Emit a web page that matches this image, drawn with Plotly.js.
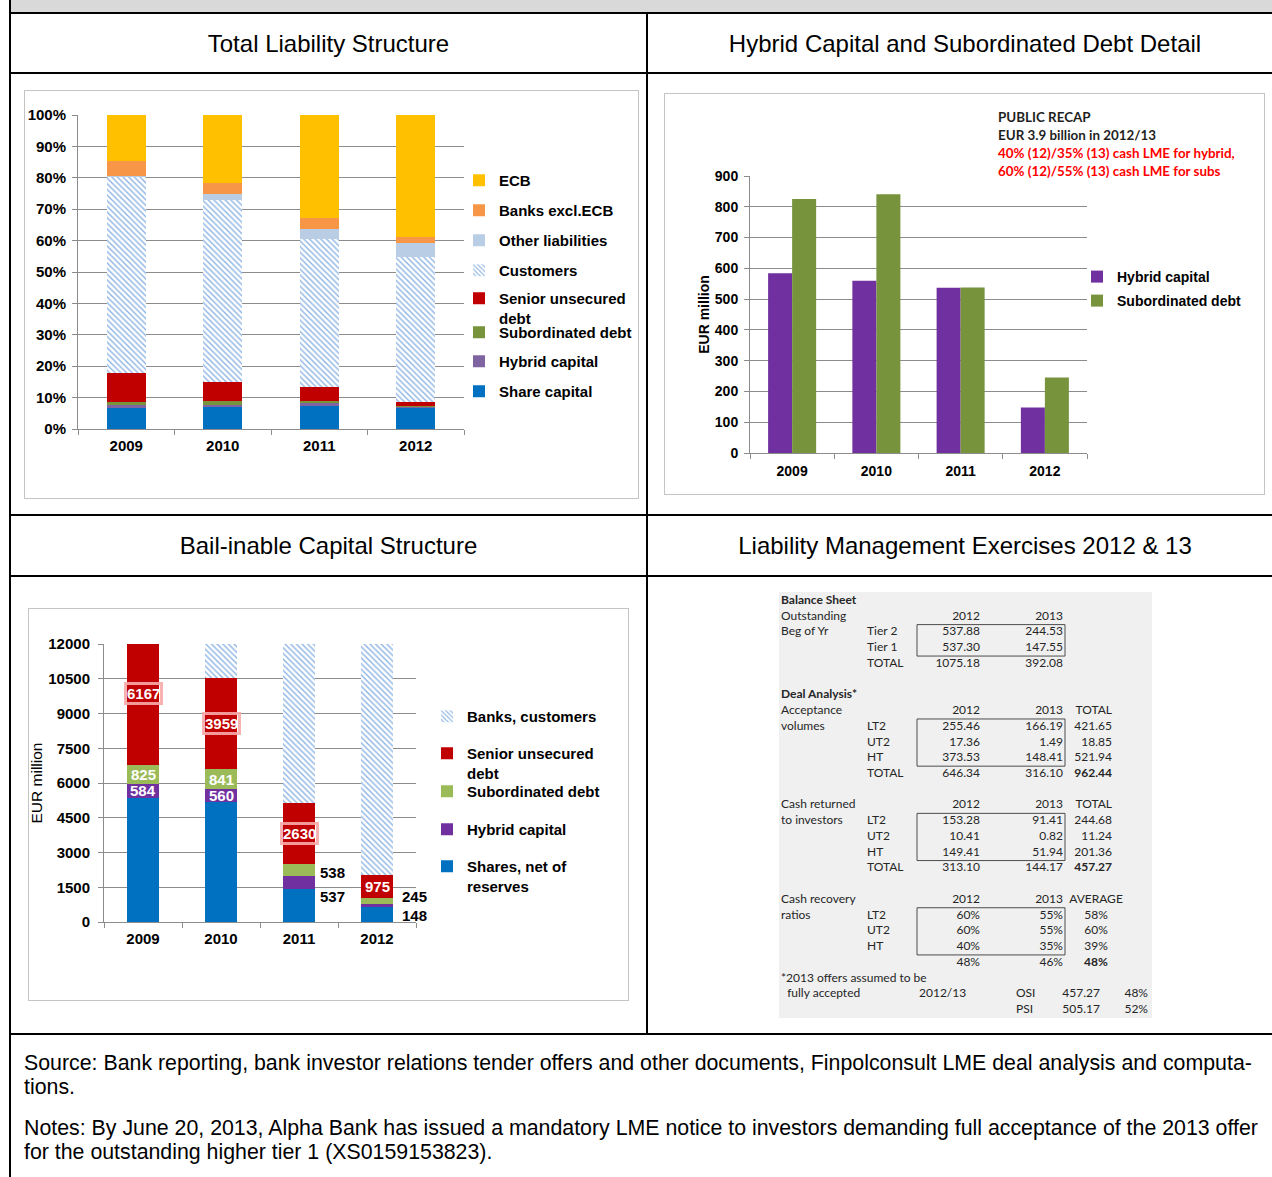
<!DOCTYPE html>
<html>
<head>
<meta charset="utf-8">
<script src="https://cdn.plot.ly/plotly-3.0.1.min.js"></script>
<style>
  body { margin: 0; background: #fff; }
  #page { position: relative; width: 1272px; height: 1177px; overflow: hidden; background: #fff; font-family: "Liberation Sans", Arial, sans-serif; }
  .hl { position: absolute; background: #000; height: 2px; }
  .vl { position: absolute; background: #000; width: 2px; }
  .hdr { position: absolute; text-align: center; font-size: 24px; color: #000; height: 30px; line-height: 30px; white-space: nowrap; }
  .box { position: absolute; box-sizing: border-box; border: 1px solid #c4c4c4; }
  .plot { position: absolute; }
  .notes { position: absolute; left: 24px; font-size: 21.33px; line-height: 24px; color: #000; white-space: nowrap; }
</style>
</head>
<body>
<div id="page">
  <div style="position:absolute;left:11px;top:0;width:1261px;height:12px;background:#d9d9d9;"></div>
  <div class="vl" style="left:9px;top:0;height:1177px;"></div>
  <div class="hl" style="left:9px;top:12px;width:1263px;"></div>
  <div class="vl" style="left:646px;top:12px;height:1023px;"></div>
  <div class="hl" style="left:9px;top:72px;width:1263px;"></div>
  <div class="hl" style="left:9px;top:514px;width:1263px;"></div>
  <div class="hl" style="left:9px;top:575px;width:1263px;"></div>
  <div class="hl" style="left:9px;top:1033px;width:1263px;"></div>

  <div class="hdr" style="left:11px;width:635px;top:29px;">Total Liability Structure</div>
  <div class="hdr" style="left:648px;width:634px;top:29px;">Hybrid Capital and Subordinated Debt Detail</div>
  <div class="hdr" style="left:11px;width:635px;top:531px;">Bail-inable Capital Structure</div>
  <div class="hdr" style="left:648px;width:634px;top:531px;">Liability Management Exercises 2012 &amp; 13</div>

  <div class="box" style="left:24px;top:90px;width:615px;height:409px;"></div>
  <div class="box" style="left:664px;top:93px;width:601px;height:402px;"></div>
  <div class="box" style="left:28px;top:608px;width:601px;height:393px;"></div>

  <div id="tl" class="plot" style="left:24px;top:90px;"></div>
  <div id="tr" class="plot" style="left:664px;top:93px;"></div>
  <div id="bl" class="plot" style="left:28px;top:608px;"></div>
  <div id="br" class="plot" style="left:779px;top:592px;width:373px;height:426px;"></div>

  <div class="notes" style="top:1051px;">Source: Bank reporting, bank investor relations tender offers and other documents, Finpolconsult LME deal analysis and computa-<br>tions.</div>
  <div class="notes" style="top:1116px;">Notes: By June 20, 2013, Alpha Bank has issued a mandatory LME notice to investors demanding full acceptance of the 2013 offer<br>for the outstanding higher tier 1 (XS0159153823).</div>
</div>

<script>
// ---------------- DATA ----------------
// Total Liability Structure (% of total liabilities)
const TL_years = ['2009', '2010', '2011', '2012'];
const TL_share = [6.7, 7.0, 7.3, 6.7];
const TL_hybrid = [0.8, 0.7, 0.9, 0.3];
const TL_sub = [1.2, 1.3, 0.8, 0.2];
const TL_senior = [9.0, 6.0, 4.3, 1.5];
const TL_customers = [62.7, 58.0, 47.3, 46.2];
const TL_other = [0.2, 1.9, 3.2, 4.3];
const TL_banks = [4.6, 3.6, 3.5, 2.1];
const TL_ecb = [14.8, 21.5, 32.7, 38.7];

// Hybrid Capital and Subordinated Debt Detail (EUR million)
const HC_years = ['2009', '2010', '2011', '2012'];
const HC_hybrid = [584, 560, 537, 148];
const HC_sub = [825, 841, 538, 245];
const HC_note = ['PUBLIC RECAP', 'EUR 3.9 billion in 2012/13'];
const HC_noteRed = ['40% (12)/35% (13) cash LME for hybrid,', '60% (12)/55% (13) cash LME for subs'];

// Bail-inable Capital Structure (EUR million)
const BC_years = ['2009', '2010', '2011', '2012'];
const BC_shares = [5370, 5190, 1440, 650];
const BC_hybrid = [584, 560, 537, 148];
const BC_sub = [825, 841, 538, 245];
const BC_senior = [6167, 3959, 2630, 975];
const BC_bankscust = [40000, 42000, 38000, 33000];

// Liability Management Exercises table (one entry per row)
const T_label = ['<b>Balance Sheet</b>', 'Outstanding', 'Beg of Yr', '', '', '', '<b>Deal Analysis*</b>', 'Acceptance', 'volumes', '', '', '', '', 'Cash returned', 'to investors', '', '', '', '', 'Cash recovery', 'ratios', '', '', '', '*2013 offers assumed to be', '\u00a0\u00a0fully accepted', ''];
const T_item = ['', '', 'Tier 2', 'Tier 1', 'TOTAL', '', '', '', 'LT2', 'UT2', 'HT', 'TOTAL', '', '', 'LT2', 'UT2', 'HT', 'TOTAL', '', '', 'LT2', 'UT2', 'HT', '', '', '', ''];
const T_y2012 = ['', '2012', '537.88', '537.30', '1075.18', '', '', '2012', '255.46', '17.36', '373.53', '646.34', '', '2012', '153.28', '10.41', '149.41', '313.10', '', '2012', '60%', '60%', '40%', '48%', '', '', ''];
const T_y2013 = ['', '2013', '244.53', '147.55', '392.08', '', '', '2013', '166.19', '1.49', '148.41', '316.10', '', '2013', '91.41', '0.82', '51.94', '144.17', '', '2013', '55%', '55%', '35%', '46%', '', '', ''];
const T_total = ['', '', '', '', '', '', '', 'TOTAL', '421.65', '18.85', '521.94', '<b>962.44</b>', '', 'TOTAL', '244.68', '11.24', '201.36', '<b>457.27</b>', '', '', '', '', '', '', '', '', ''];
const T_avg = ['', '', '', '', '', '', '', '', '', '', '', '', '', '', '', '', '', '', '', 'AVERAGE', '58%', '60%', '39%', '<b>48%</b>', '', '', ''];
const T_period = ['', '', '', '', '', '', '', '', '', '', '', '', '', '', '', '', '', '', '', '', '', '', '', '', '', '2012/13', ''];
const T_type = ['', '', '', '', '', '', '', '', '', '', '', '', '', '', '', '', '', '', '', '', '', '', '', '', '', 'OSI', 'PSI'];
const T_amount = ['', '', '', '', '', '', '', '', '', '', '', '', '', '', '', '', '', '', '', '', '', '', '', '', '', '457.27', '505.17'];
const T_pct = ['', '', '', '', '', '', '', '', '', '', '', '', '', '', '', '', '', '', '', '', '', '', '', '', '', '48%', '52%'];

// ---------------- STYLE / GEOMETRY ----------------
const FONT = 'Liberation Sans, Arial, sans-serif';
const CAL = 'Lato, Carlito, Calibri, sans-serif';
const GRID = '#8c8c8c';
// w includes extra transparent room on the right so legends never push the margins
const G = {
  tl: {left: 24, top: 90, w: 675, h: 409, ml: 54, pw: 386, mt: 25, mb: 70},
  tr: {left: 664, top: 93, w: 640, h: 402, ml: 86, pw: 337, mt: 83, mb: 42},
  bl: {left: 28, top: 608, w: 660, h: 393, ml: 76, pw: 312, mt: 36, mb: 79}
};
for (const k in G) { G[k].mr = G[k].w - G[k].ml - G[k].pw; G[k].ph = G[k].h - G[k].mt - G[k].mb; }
const px2x = (g, X) => (X - g.left - g.ml) / g.pw;
const px2y = (g, Y) => 1 - (Y - g.top - g.mt) / g.ph;
const LEG_TEXT_OFF = 40, LEG_Y_OFF = 16;
function legendAt(g, textX, centerY, size) {
  return {
    x: px2x(g, textX - LEG_TEXT_OFF), y: px2y(g, centerY - LEG_Y_OFF),
    xanchor: 'left', yanchor: 'top', valign: 'top',
    bgcolor: 'rgba(0,0,0,0)', borderwidth: 0,
    font: {family: FONT, size: size, color: '#000', weight: 'bold'}
  };
}
const hatch = {shape: '\\', fgcolor: '#8eb4e3', bgcolor: '#ffffff', size: 4, solidity: 0.35};
const cfg = {staticPlot: true, displayModeBar: false};

function baseAxes(size, xStand) {
  const tf = {family: FONT, size: size, color: '#000', weight: 'bold'};
  return {
    xaxis: {type: 'category', range: [-0.5, 3.5], showline: true, linecolor: GRID, linewidth: 1, ticks: 'outside', tickson: 'boundaries',
      ticklen: 5, tickcolor: GRID, showgrid: false, tickfont: tf, ticklabelstandoff: xStand, fixedrange: true},
    yaxis: {showline: true, linecolor: GRID, linewidth: 1, ticks: 'outside', ticklen: 5, tickcolor: GRID,
      showgrid: true, gridcolor: GRID, gridwidth: 1, zeroline: false, tickfont: tf, fixedrange: true}
  };
}

// ---------------- CHART 1: Total Liability Structure ----------------
(function () {
  const g = G.tl;
  const series = [
    ['Share capital', TL_share, '#0070c0'],
    ['Hybrid capital', TL_hybrid, '#8064a2'],
    ['Subordinated debt', TL_sub, '#77933c'],
    ['Senior unsecured<br>debt', TL_senior, '#c00000'],
    ['Customers', TL_customers, null],
    ['Other liabilities', TL_other, '#b9cde5'],
    ['Banks excl.ECB', TL_banks, '#f79646'],
    ['ECB', TL_ecb, '#ffc000']
  ];
  // legend text centre rows (px on page)
  const legY = [391, 361, 332, 298, 270, 240, 210, 180];
  const layout = Object.assign({
    width: g.w, height: g.h, margin: {l: g.ml, r: g.mr, t: g.mt, b: g.mb, pad: 0},
    paper_bgcolor: 'rgba(0,0,0,0)', plot_bgcolor: 'rgba(0,0,0,0)',
    barmode: 'stack', bargap: 0.6, showlegend: true, font: {family: FONT}
  }, baseAxes(15, 3));
  layout.yaxis.range = [0, 100];
  layout.yaxis.dtick = 10;
  layout.yaxis.ticksuffix = '%';
  layout.yaxis.ticklabelstandoff = 3;
  const traces = series.map((s, i) => {
    const lg = i === 0 ? 'legend' : 'legend' + (i + 1);
    layout[lg] = legendAt(g, 499, legY[i], 15);
    const m = s[2] ? {color: s[2], line: {width: 0}} : {color: '#ffffff', pattern: hatch, line: {width: 0}};
    return {type: 'bar', name: s[0], x: TL_years, y: s[1], marker: m, legend: lg, hoverinfo: 'skip'};
  });
  Plotly.newPlot('tl', traces, layout, cfg);
})();

// ---------------- CHART 2: Hybrid Capital and Subordinated Debt ----------------
(function () {
  const g = G.tr;
  const layout = Object.assign({
    width: g.w, height: g.h, margin: {l: g.ml, r: g.mr, t: g.mt, b: g.mb, pad: 0},
    paper_bgcolor: 'rgba(0,0,0,0)', plot_bgcolor: 'rgba(0,0,0,0)',
    barmode: 'group', bargap: 0.43, bargroupgap: 0, showlegend: true, font: {family: FONT}
  }, baseAxes(14, 5));
  layout.yaxis.range = [0, 900];
  layout.yaxis.dtick = 100;
  layout.yaxis.ticklabelstandoff = 3;
  layout.yaxis.title = {text: 'EUR million', standoff: 1, font: {family: FONT, size: 14, color: '#000', weight: 'bold'}};
  layout.legend = legendAt(g, 1117, 277, 14);
  layout.legend2 = legendAt(g, 1117, 301, 14);
  // note lines, one annotation per line, 18 px apart
  const noteLines = HC_note.map(t => [t, '#1f1f1f']).concat(HC_noteRed.map(t => [t, '#ff0000']));
  layout.annotations = noteLines.map((ln, k) => ({
    xref: 'paper', yref: 'paper', x: px2x(g, 996), y: px2y(g, 117 + 18 * k), xanchor: 'left', yanchor: 'middle',
    align: 'left', showarrow: false, text: ln[0],
    font: {family: CAL, size: 13.4, color: ln[1], weight: 'bold'}
  }));
  const traces = [
    {type: 'bar', name: 'Hybrid capital', x: HC_years, y: HC_hybrid, marker: {color: '#7030a0', line: {width: 0}}, legend: 'legend', hoverinfo: 'skip'},
    {type: 'bar', name: 'Subordinated debt', x: HC_years, y: HC_sub, marker: {color: '#77933c', line: {width: 0}}, legend: 'legend2', hoverinfo: 'skip'}
  ];
  Plotly.newPlot('tr', traces, layout, cfg);
})();

// ---------------- CHART 3: Bail-inable Capital Structure ----------------
(function () {
  const g = G.bl;
  const series = [
    ['Shares, net of<br>reserves', BC_shares, '#0070c0'],
    ['Hybrid capital', BC_hybrid, '#7030a0'],
    ['Subordinated debt', BC_sub, '#9bbb59'],
    ['Senior unsecured<br>debt', BC_senior, '#c00000'],
    ['Banks, customers', BC_bankscust, null]
  ];
  const legY = [866, 829, 791, 753, 716];
  const layout = Object.assign({
    width: g.w, height: g.h, margin: {l: g.ml, r: g.mr, t: g.mt, b: g.mb, pad: 0},
    paper_bgcolor: 'rgba(0,0,0,0)', plot_bgcolor: 'rgba(0,0,0,0)',
    barmode: 'stack', bargap: 0.58, showlegend: true, font: {family: FONT}
  }, baseAxes(15, 3));
  layout.yaxis.range = [0, 12000];
  layout.yaxis.dtick = 1500;
  layout.yaxis.tickformat = 'd';
  layout.yaxis.ticklabelstandoff = 5;
  layout.yaxis.title = {text: 'EUR million', standoff: 5, font: {family: FONT, size: 15.5, color: '#000'}};
  const traces = series.map((s, i) => {
    const lg = i === 0 ? 'legend' : 'legend' + (i + 1);
    layout[lg] = legendAt(g, 467, legY[i], 15);
    const m = s[2] ? {color: s[2], line: {width: 0}} : {color: '#ffffff', pattern: hatch, line: {width: 0}};
    return {type: 'bar', name: s[0], x: BC_years, y: s[1], marker: m, legend: lg, hoverinfo: 'skip'};
  });
  // data labels placed at segment midpoints (x = category index)
  const ann = [];
  const white = {family: FONT, size: 15, color: '#ffffff', weight: 'bold'};
  const black = {family: FONT, size: 15, color: '#000000', weight: 'bold'};
  BC_years.forEach((yr, i) => {
    const c0 = BC_shares[i], c1 = c0 + BC_hybrid[i], c2 = c1 + BC_sub[i], c3 = c2 + BC_senior[i];
    const boxed = i < 3;
    ann.push({x: i, y: (c2 + c3) / 2, text: String(BC_senior[i]), showarrow: false, font: white,
      bordercolor: boxed ? 'rgba(248,170,170,0.9)' : 'rgba(0,0,0,0)', borderwidth: boxed ? 3 : 0, borderpad: 0});
    if (i < 2) {
      ann.push({x: i, y: (c1 + c2) / 2, text: String(BC_sub[i]), showarrow: false, font: white});
      ann.push({x: i, y: (c0 + c1) / 2, text: String(BC_hybrid[i]), showarrow: false, font: white});
    }
  });
  const outShift = {2: {dx: 33, sub: -3, hyb: -14}, 3: {dx: 37, sub: 4, hyb: -10}};
  [2, 3].forEach(i => {
    const c0 = BC_shares[i], c1 = c0 + BC_hybrid[i], c2 = c1 + BC_sub[i];
    const s = outShift[i];
    ann.push({x: i, y: (c1 + c2) / 2, text: String(BC_sub[i]), showarrow: false, font: black, xshift: s.dx, yshift: s.sub});
    ann.push({x: i, y: (c0 + c1) / 2, text: String(BC_hybrid[i]), showarrow: false, font: black, xshift: s.dx, yshift: s.hyb});
  });
  layout.annotations = ann;
  Plotly.newPlot('bl', traces, layout, cfg);
})();

// ---------------- TABLE: Liability Management Exercises ----------------
(function () {
  const W = 373, H = 426, ROW0 = 9, ROWH = 15.73;
  const rows = T_label.map((_, i) => i);
  // column anchor (px inside panel) and alignment
  const cols = [
    [T_label, 2, 'left'], [T_item, 88, 'left'], [T_y2012, 201, 'right'], [T_y2013, 284, 'right'],
    [T_total, 333, 'right'], [T_avg, 317, 'center'], [T_period, 140, 'left'], [T_type, 237, 'left'],
    [T_amount, 321, 'right'], [T_pct, 369, 'right']
  ];
  const tf = {family: CAL, size: 12, color: '#262626'};
  const traces = cols.map(c => ({
    type: 'scatter', mode: 'text', x: rows.map(() => c[1]), y: rows, text: c[0],
    textposition: c[2] === 'left' ? 'middle right' : (c[2] === 'right' ? 'middle left' : 'middle center'),
    textfont: tf, hoverinfo: 'skip', showlegend: false, cliponaxis: false
  }));
  const boxRows = [[1.5, 3.5], [7.5, 10.5], [13.5, 16.5], [19.5, 22.5]];
  const shapes = boxRows.map(b => ({type: 'rect', xref: 'x', yref: 'y', x0: 138, x1: 286, y0: b[0], y1: b[1],
    line: {color: '#4d4d4d', width: 1}, fillcolor: 'rgba(0,0,0,0)'}));
  const layout = {
    width: W, height: H, margin: {l: 0, r: 0, t: 0, b: 0, pad: 0},
    paper_bgcolor: '#f0f0f0', plot_bgcolor: '#f0f0f0', showlegend: false,
    xaxis: {range: [0, W], visible: false, fixedrange: true},
    yaxis: {range: [(H - ROW0) / ROWH, -ROW0 / ROWH], visible: false, fixedrange: true},
    shapes: shapes
  };
  Plotly.newPlot('br', traces, layout, cfg);
})();
</script>
</body>
</html>
